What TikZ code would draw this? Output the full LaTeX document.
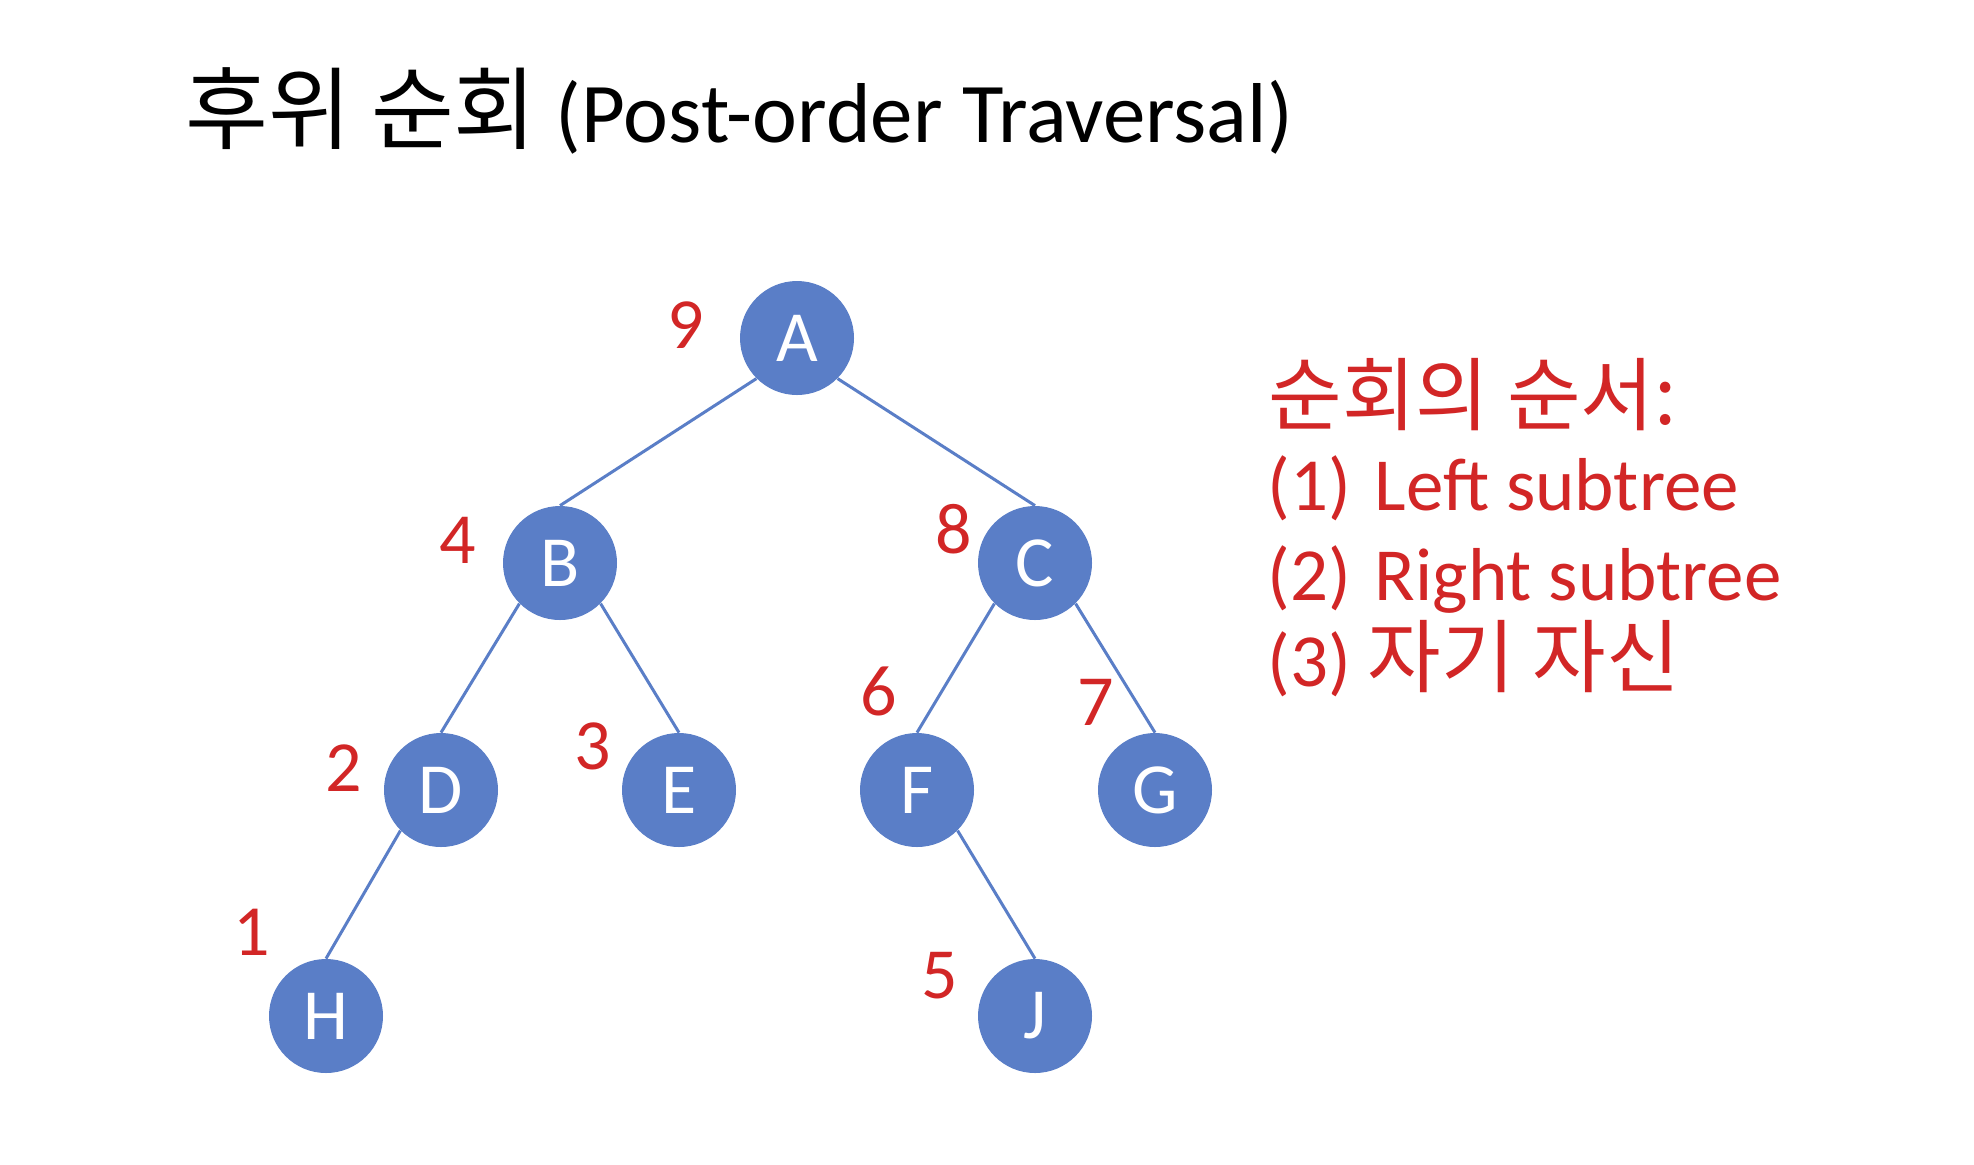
\documentclass[tikz,border=0pt]{standalone}
\usepackage{fontspec}
\setmainfont{Carlito}
\newfontfamily\kor{Noto Sans CJK KR}
\usepackage{tikz}
\usetikzlibrary{positioning}
\definecolor{nodeblue}{RGB}{90,126,199}
\definecolor{ordred}{RGB}{210,38,38}

\begin{document}
\begin{tikzpicture}[x=0.5pt,y=-0.5pt,
  vertex/.style={circle,fill=nodeblue,text=white,minimum size=57pt,inner sep=0pt,font=\fontsize{36}{36}\selectfont},
  order/.style={text=ordred,inner sep=0pt,font=\fontsize{36}{36}\selectfont},
  rule/.style={anchor=base west,inner sep=0pt,text=ordred,font=\fontsize{37.5}{37.5}\selectfont},
  edge/.style={draw=nodeblue,line width=1.5pt}]
\useasboundingbox[fill=white] (0,0) rectangle (1974,1164);
% title
\node[anchor=base west,inner sep=0pt,font=\fontsize{42.5}{42.5}\selectfont] (title) at (185,142) {{\kor\fontsize{45}{45}\selectfont 후위 순회} (Post-order Traversal)};
% tree
\node[vertex] (A) at (797,338) {A};
\node[vertex] (B) at (560,563) {B};
\node[vertex] (C) at (1035,563) {C};
\node[vertex] (D) at (441,790) {D};
\node[vertex] (E) at (679,790) {E};
\node[vertex] (F) at (917,790) {F};
\node[vertex] (G) at (1155,790) {G};
\node[vertex] (H) at (326,1016) {H};
\node[vertex] (J) at (1035,1016) {J};
\foreach \p/\c in {A/B,B/D,D/H,C/F}{\draw[edge] (\p.south west) -- (\c.north);}
\foreach \p/\c in {A/C,B/E,C/G,F/J}{\draw[edge] (\p.south east) -- (\c.north);}
% visiting order
\node[order] (o9) at (686,325) {9};
\node[order] (o4) at (458,540) {4};
\node[order] (o8) at (954,529) {8};
\node[order] (o2) at (344,768) {2};
\node[order] (o3) at (593,746) {3};
\node[order] (o6) at (879,691) {6};
\node[order] (o7) at (1096,702) {7};
\node[order] (o1) at (252,932) {1};
\node[order] (o5) at (940,976) {5};
% rule
\node[rule,font=\kor\fontsize{40}{40}\selectfont] (r0) at (1268,424) {순회의 순서:};
\node[rule] (r1) at (1267,510) {(1)\hspace{0.32em}Left subtree};
\node[rule] (r2) at (1267,600) {(2)\hspace{0.32em}Right subtree};
\node[rule] (r3) at (1267,686) {(3) {\kor\fontsize{40}{40}\selectfont 자기 자신}};
\end{tikzpicture}
\end{document}
